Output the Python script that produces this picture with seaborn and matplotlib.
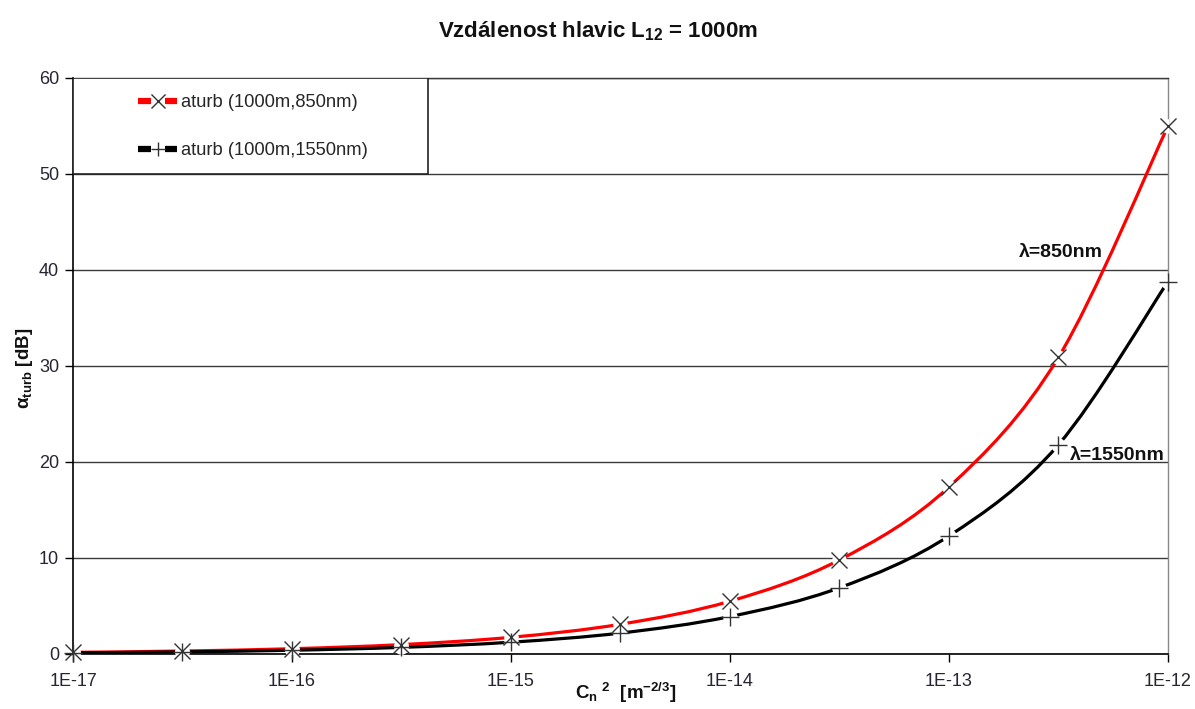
import numpy as np
import matplotlib
matplotlib.use("Agg")
import matplotlib.pyplot as plt
import seaborn as sns
from matplotlib.path import Path
from matplotlib.patches import PathPatch, Rectangle
from matplotlib.lines import Line2D
from matplotlib.legend_handler import HandlerTuple
from matplotlib.ticker import NullLocator, FixedLocator

# ---- data ----
cn2 = [1e-17, 3.16e-17, 1e-16, 3.16e-16, 1e-15, 3.16e-15,
       1e-14, 3.16e-14, 1e-13, 3.16e-13, 1e-12]
a850 = [0.17, 0.31, 0.55, 0.98, 1.74, 3.1, 5.5, 9.8, 17.4, 30.9, 55.0]
a1550 = [0.12, 0.22, 0.39, 0.69, 1.23, 2.18, 3.9, 6.9, 12.3, 21.8, 38.8]
series_labels = ["aturb (1000m,850nm)", "aturb (1000m,1550nm)"]
series_colors = ["#ff0000", "#000000"]
series_markers = ["x", "+"]
xtick_vals = [1e-17, 1e-16, 1e-15, 1e-14, 1e-13, 1e-12]
xtick_labels = ["1E-17", "1E-16", "1E-15", "1E-14", "1E-13", "1E-12"]
ytick_vals = [0, 10, 20, 30, 40, 50, 60]
title = "Vzdálenost hlavic L$_{12}$ = 1000m"
xlabel = "C$_n$$^{\\ 2}$  [m$^{-2/3}$]"
ylabel = "α$_{turb}$ [dB]"
annotations = [("λ=850nm", 5.05e-13, 41.8, "right"),
               ("λ=1550nm", 3.57e-13, 20.7, "left")]

sns.set_theme(style="white")
plt.rcParams['font.family'] = ['Liberation Sans', 'DejaVu Sans']
plt.rcParams['mathtext.default'] = 'regular'

fig = plt.figure(figsize=(11.95, 7.09), dpi=100)
W, H = 1195, 709
L, R, T, B = 73, 1168, 78, 654
ax = fig.add_axes([L / W, 1 - B / H, (R - L) / W, (B - T) / H])
ax.set_xscale("log")
ax.set_xlim(1e-17, 1e-12)
ax.set_ylim(0, 60)


def smooth_path(xs, ys):
    """Excel-style smoothed line: cubic Bezier through the points (in log-x space)."""
    lx = np.log10(np.asarray(xs, float))
    y = np.asarray(ys, float)
    n = len(lx)
    verts = [(lx[0], y[0])]
    codes = [Path.MOVETO]
    for i in range(n - 1):
        i0, i3 = max(i - 1, 0), min(i + 2, n - 1)
        c1 = (lx[i] + (lx[i + 1] - lx[i0]) / 6, y[i] + (y[i + 1] - y[i0]) / 6)
        c2 = (lx[i + 1] - (lx[i3] - lx[i]) / 6, y[i + 1] - (y[i3] - y[i]) / 6)
        verts += [c1, c2, (lx[i + 1], y[i + 1])]
        codes += [Path.CURVE4] * 3
    verts = [(10 ** vx, vy) for vx, vy in verts]
    return Path(verts, codes)


for vals, col in zip([a850, a1550], series_colors):
    ax.add_patch(PathPatch(smooth_path(cn2, vals), fill=False, edgecolor=col,
                           lw=2.3, zorder=3, capstyle="butt"))
for vals, col, mk in zip([a850, a1550], series_colors, series_markers):
    # white gap around markers (as in the reference rendering)
    sns.lineplot(x=cn2, y=vals, ax=ax, marker="o", linestyle="none",
                 markersize=10.5, markerfacecolor="white", markeredgecolor="white",
                 markeredgewidth=0, zorder=4, legend=False)
    sns.lineplot(x=cn2, y=vals, ax=ax, marker=mk, linestyle="none",
                 markersize=11.5 if mk == "x" else 12.5, color="#333333",
                 markeredgecolor="#333333", markeredgewidth=1.0,
                 zorder=5, legend=False, clip_on=False)

# grid and axes
ax.yaxis.grid(True, color="#3a3a3a", lw=1.0, zorder=0)
ax.xaxis.grid(False)
ax.set_axisbelow(True)
ax.set_yticks(ytick_vals)
ax.xaxis.set_major_locator(FixedLocator(xtick_vals))
ax.set_xticklabels(xtick_labels)
ax.xaxis.set_minor_locator(NullLocator())
for s in ["left", "bottom"]:
    ax.spines[s].set_color("black")
    ax.spines[s].set_linewidth(1.2)
ax.spines["top"].set_color("#3a3a3a")
ax.spines["top"].set_linewidth(1.0)
ax.spines["right"].set_color("#888888")
ax.spines["right"].set_linewidth(1.0)
ax.tick_params(axis="both", which="major", direction="out", length=6, width=1,
               color="black", labelsize=13, labelcolor="#262633",
               bottom=True, left=True, pad=4)
ax.tick_params(axis="x", pad=8)

fig.text(598 / W, 1 - 31 / H, title, ha="center", va="center",
         fontsize=16, fontweight="bold", color="#111111")
ax.set_xlabel(xlabel, fontsize=13.5, fontweight="bold", color="#111111")
ax.xaxis.set_label_coords((626 - L) / (R - L), -(681 - B) / (B - T))
ax.set_ylabel(ylabel, fontsize=13.5, fontweight="bold", color="#111111")
ax.yaxis.set_label_coords(-(L - 35) / (R - L), (B - 368) / (B - T))

for txt, x, y, ha in annotations:
    ax.text(x, y, txt, ha=ha, va="center", fontsize=14, fontweight="bold",
            color="#111111", zorder=6)

# legend box
ax.add_patch(Rectangle((0, (B - 174) / (B - T)), (428 - L) / (R - L),
                       1 - (B - 174) / (B - T), transform=ax.transAxes,
                       facecolor="white", edgecolor="#222222", lw=1.2, zorder=6))
handles = []
for c, m in zip(series_colors, series_markers):
    ln = Line2D([], [], color=c, lw=4.5, solid_capstyle="butt")
    gap = Line2D([], [], linestyle="none", marker="s", markersize=10.5,
                 markerfacecolor="white", markeredgewidth=0)
    mk = Line2D([], [], linestyle="none", marker=m, markersize=10,
                markeredgecolor="#333333", markeredgewidth=1.0)
    handles.append((ln, gap, mk))
leg = ax.legend(handles, series_labels, loc="upper left", frameon=False,
                bbox_to_anchor=((138 - L) / (R - L), (B - 94) / (B - T)),
                borderaxespad=0, borderpad=0, fontsize=13.2,
                handlelength=2.15, handletextpad=0.22, labelspacing=1.7,
                handler_map={tuple: HandlerTuple(ndivide=1, pad=0)})
leg.set_zorder(7)

fig.savefig("out.png", dpi=100)
